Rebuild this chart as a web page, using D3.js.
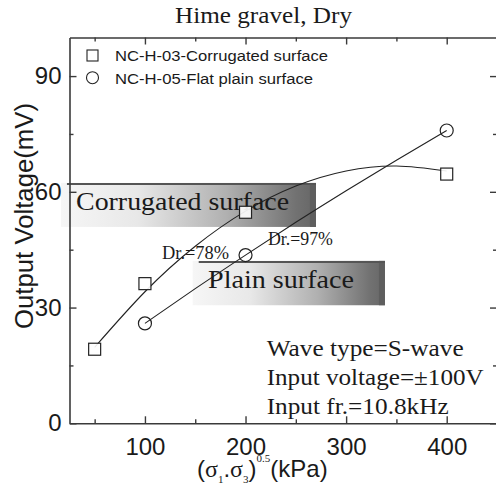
<!DOCTYPE html>
<html>
<head>
<meta charset="utf-8">
<script src="https://cdn.jsdelivr.net/npm/d3@7"></script>
<style>
  html, body { margin: 0; padding: 0; background: #fff; overflow: hidden; }
  svg { display: block; }
</style>
</head>
<body>
<svg id="chart" width="496" height="491"></svg>
<script>
// Confining stress (sqrt(σ1·σ3), kPa) and measured output voltage (mV)
const corrugatedX = [50, 100, 200, 400];
const corrugatedY = [19.2, 36.2, 54.7, 64.6];
const flatX = [100, 200, 400];
const flatY = [25.9, 43.6, 75.9];

// Trend curves drawn through the measurements
const corrugatedFitX = [50, 100, 150, 200, 250, 300, 350, 400];
const corrugatedFitY = [19.7, 34.1, 45.9, 55.0, 61.5, 65.4, 66.7, 65.4];
const flatFitX = [100, 150, 200, 250, 300, 350, 400];
const flatFitY = [25.9, 34.9, 43.6, 52.1, 60.3, 68.2, 75.9];

const xMajorTicks = [100, 200, 300, 400];
const xMinorTicks = [50, 150, 250, 350];
const yMajorTicks = [0, 30, 60, 90];
const yMinorTicks = [15, 45, 75];

const seriesNames = ["NC-H-03-Corrugated surface", "NC-H-05-Flat plain surface"];
const testNotes = ["Wave type=S-wave", "Input voltage=\u00b1100V", "Input fr.=10.8kHz"];

const svg = d3.select("#chart");
const plotLeft = 69.5, plotRight = 497, plotTop = 37.5, plotBottom = 423.3;

const x = d3.scaleLinear().domain([25, 450]).range([plotLeft, plotRight]);
const y = d3.scaleLinear().domain([0, 100]).range([plotBottom, plotTop]);

const SANS = "'Liberation Sans', Arial, sans-serif";
const SERIF = "'Liberation Serif', 'Times New Roman', serif";
const AXIS = "#3a3a3a";

// Gradient fill for the surface-type banners
const defs = svg.append("defs");
const grad = defs.append("linearGradient").attr("id", "banner").attr("x1", 0).attr("x2", 1).attr("y1", 0).attr("y2", 0);
[[0, "#f6f6f6"], [0.3, "#e8e8e8"], [0.65, "#b0b0b0"], [0.92, "#727272"], [1, "#666"]]
  .forEach(([o, c]) => grad.append("stop").attr("offset", o).attr("stop-color", c));

function banner(x0, x1, y0, y1, label, lx, ly, len) {
  const g = svg.append("g");
  const px0 = x(x0), px1 = x(x1), py0 = y(y1), py1 = y(y0);
  g.append("rect").attr("x", px0).attr("y", py0).attr("width", px1 - px0).attr("height", py1 - py0)
    .attr("fill", "url(#banner)");
  g.append("rect").attr("x", px1 - 6).attr("y", py0).attr("width", 6).attr("height", py1 - py0)
    .attr("fill", "#5e5e5e");
  g.append("line").attr("x1", px0 + 6).attr("x2", px1).attr("y1", py0 + 1).attr("y2", py0 + 1)
    .attr("stroke", "#555").attr("stroke-width", 2);
  g.append("text").attr("x", x(lx)).attr("y", y(ly))
    .attr("font-family", SERIF).attr("font-size", 25).attr("fill", "#1a1a1a")
    .attr("textLength", len).attr("lengthAdjust", "spacingAndGlyphs")
    .text(label);
}
banner(16.5, 270, 50.9, 62.3, "Corrugated surface", 31.5, 55.3, 213);
banner(147.5, 338.6, 30.6, 42.1, "Plain surface", 162.7, 35.0, 146);

// Trend curves
const line = d3.line().x(d => x(d[0])).y(d => y(d[1])).curve(d3.curveNatural);
svg.append("path").datum(d3.zip(corrugatedFitX, corrugatedFitY)).attr("d", line)
  .attr("fill", "none").attr("stroke", "#222").attr("stroke-width", 1.1);
svg.append("path").datum(d3.zip(flatFitX, flatFitY)).attr("d", line)
  .attr("fill", "none").attr("stroke", "#222").attr("stroke-width", 1.1);

// Markers
const sq = 12;
svg.append("g").selectAll("rect").data(d3.zip(corrugatedX, corrugatedY)).join("rect")
  .attr("x", d => x(d[0]) - sq / 2).attr("y", d => y(d[1]) - sq / 2)
  .attr("width", sq).attr("height", sq)
  .attr("fill", "#fff").attr("fill-opacity", 0.9).attr("stroke", "#222").attr("stroke-width", 1.2);
svg.append("g").selectAll("circle").data(d3.zip(flatX, flatY)).join("circle")
  .attr("cx", d => x(d[0])).attr("cy", d => y(d[1])).attr("r", 6.5)
  .attr("fill", "none").attr("stroke", "#222").attr("stroke-width", 1.2);

// Relative density notes
svg.append("text").attr("x", x(117)).attr("y", y(42.6)).attr("font-family", SERIF).attr("font-size", 18)
  .attr("textLength", 67).attr("lengthAdjust", "spacingAndGlyphs").attr("fill", "#1a1a1a").text("Dr.=78%");
svg.append("text").attr("x", x(222.3)).attr("y", y(46.2)).attr("font-family", SERIF).attr("font-size", 18)
  .attr("textLength", 65).attr("lengthAdjust", "spacingAndGlyphs").attr("fill", "#1a1a1a").text("Dr.=97%");

// Test conditions
const noteLens = [197, 217, 182];
svg.append("g").selectAll("text").data(testNotes).join("text")
  .attr("x", 266.7).attr("y", (d, i) => 356 + i * 29.2)
  .attr("font-family", SERIF).attr("font-size", 24).attr("fill", "#1a1a1a")
  .attr("textLength", (d, i) => noteLens[i]).attr("lengthAdjust", "spacingAndGlyphs")
  .text(d => d);

// Axes with inward ticks on all four sides
function styleAxis(g) {
  g.select(".domain").attr("stroke", AXIS).attr("stroke-width", 1.6);
  g.selectAll(".tick line").attr("stroke", AXIS).attr("stroke-width", 1.4);
  g.selectAll("text").attr("font-family", SANS).attr("font-size", 24).attr("fill", "#1a1a1a");
}
function minor(g) {
  g.select(".domain").remove();
  g.selectAll(".tick line").attr("stroke", AXIS).attr("stroke-width", 1.4);
}
svg.append("g").attr("transform", `translate(0,${plotBottom})`)
  .call(d3.axisBottom(x).tickValues(xMinorTicks).tickSize(-4).tickFormat("")).call(minor);
svg.append("g").attr("transform", `translate(0,${plotTop})`)
  .call(d3.axisTop(x).tickValues(xMinorTicks).tickSize(-4).tickFormat("")).call(minor);
svg.append("g").attr("transform", `translate(${plotLeft},0)`)
  .call(d3.axisLeft(y).tickValues(yMinorTicks).tickSize(-4).tickFormat("")).call(minor);
svg.append("g").attr("transform", `translate(${plotRight},0)`)
  .call(d3.axisRight(y).tickValues(yMinorTicks).tickSize(-4).tickFormat("")).call(minor);

svg.append("g").attr("transform", `translate(0,${plotBottom})`)
  .call(d3.axisBottom(x).tickValues(xMajorTicks).tickSize(-7).tickSizeOuter(0).tickPadding(15).tickFormat(d3.format("d")))
  .call(styleAxis);
svg.append("g").attr("transform", `translate(0,${plotTop})`)
  .call(d3.axisTop(x).tickValues(xMajorTicks).tickSize(-7).tickSizeOuter(0).tickFormat(""))
  .call(styleAxis);
svg.append("g").attr("transform", `translate(${plotLeft},0)`)
  .call(d3.axisLeft(y).tickValues(yMajorTicks).tickSize(-7).tickSizeOuter(0).tickPadding(8).tickFormat(d3.format("d")))
  .call(styleAxis);
svg.append("g").attr("transform", `translate(${plotRight},0)`)
  .call(d3.axisRight(y).tickValues(yMajorTicks).tickSize(-7).tickSizeOuter(0).tickFormat(""))
  .call(styleAxis);

// Legend
const lg = svg.append("g");
lg.append("rect").attr("x", 87).attr("y", 50).attr("width", 11).attr("height", 11)
  .attr("fill", "none").attr("stroke", "#222").attr("stroke-width", 1.1);
lg.append("circle").attr("cx", 92.5).attr("cy", 77.7).attr("r", 6)
  .attr("fill", "none").attr("stroke", "#222").attr("stroke-width", 1.1);
lg.selectAll("text").data(seriesNames).join("text")
  .attr("x", 115).attr("y", (d, i) => 61 + i * 22.5)
  .attr("font-family", SANS).attr("font-size", 15.5).attr("fill", "#1a1a1a")
  .attr("textLength", (d, i) => [213, 198][i]).attr("lengthAdjust", "spacingAndGlyphs")
  .text(d => d);

// Title
svg.append("text").attr("x", 263.5).attr("y", 22.7).attr("text-anchor", "middle")
  .attr("font-family", SERIF).attr("font-size", 23).attr("fill", "#1a1a1a")
  .attr("textLength", 177).attr("lengthAdjust", "spacingAndGlyphs")
  .text("Hime gravel, Dry");

// Y-axis title
svg.append("text").attr("transform", "translate(33,216) rotate(-90)").attr("text-anchor", "middle")
  .attr("font-family", SANS).attr("font-size", 25).attr("fill", "#1a1a1a")
  .attr("textLength", 226).attr("lengthAdjust", "spacingAndGlyphs")
  .text("Output Voltage(mV)");

// X-axis title: (σ1.σ3)^0.5(kPa)
const xt = svg.append("text").attr("x", 197).attr("y", 477)
  .attr("font-family", SANS).attr("font-size", 24).attr("fill", "#1a1a1a");
xt.append("tspan").text("(");
xt.append("tspan").attr("font-family", SERIF).text("\u03c3");
xt.append("tspan").attr("font-family", SERIF).attr("font-size", 11).attr("dy", 6).text("1");
xt.append("tspan").attr("dy", -6).text(".");
xt.append("tspan").attr("font-family", SERIF).text("\u03c3");
xt.append("tspan").attr("font-family", SERIF).attr("font-size", 11).attr("dy", 6).text("3");
xt.append("tspan").attr("dy", -6).text(")");
xt.append("tspan").attr("font-family", SERIF).attr("font-size", 11).attr("dy", -15).text("0.5");
xt.append("tspan").attr("dy", 15).text("(kPa)");
</script>
</body>
</html>
